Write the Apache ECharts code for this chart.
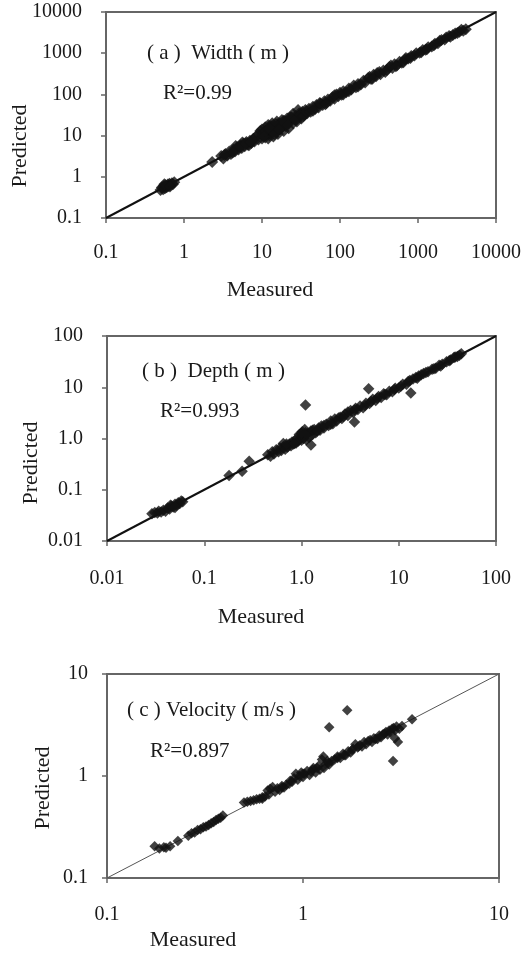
<!DOCTYPE html>
<html><head><meta charset="utf-8">
<script src="https://cdn.jsdelivr.net/npm/echarts@6/dist/echarts.min.js"></script>
<style>html,body{margin:0;padding:0;background:#fff}#c{width:524px;height:955px}</style>
</head><body><div id="c"></div>
<script>
const FONT = "'Liberation Serif','Times New Roman',serif";

const ticksA = ['0.1','1','10','100','1000','10000'];
const ticksB = ['0.01','0.1','1.0','10','100'];
const ticksC = ['0.1','1','10'];
const rangeA = [0.1, 10000];
const rangeB = [0.01, 100];
const rangeC = [0.1, 10];

const pointsA = [
[0.5,0.48],[0.52,0.55],[0.54,0.5],[0.55,0.6],[0.57,0.53],[0.58,0.62],[0.6,0.56],[0.62,0.65],[0.63,0.6],[0.65,0.68],[0.67,0.63],[0.7,0.7],[0.72,0.66],[0.75,0.74],[0.56,0.66],[0.66,0.58],
[2.3,2.3],
[3.0,3.2],[3.2,2.8],[3.4,3.6],[3.6,3.3],[3.8,4.1],[4.0,3.6],[4.3,4.6],[4.5,4.1],[4.8,5.2],[5.0,4.6],[5.3,5.8],[5.5,5.0],[5.8,6.4],[6.0,5.5],[6.3,7.0],[6.6,6.0],[7.0,7.5],[7.3,6.6],[7.6,8.0],[8.0,7.2],[4.6,5.6],[5.6,6.8],[6.8,5.8],
[3.3,3.4],[4.2,3.9],[5.2,5.4],[6.2,6.4],[7.8,8.4],[7.2,7.0],
[8.5,9.5],[9,8],[9,11],[9.5,13],[10,8.5],[10,10.5],[10,14],[10.5,12],[11,9],[11,16],[11.5,11],[12,8.5],[12,13],[12,18],[12.5,10],[13,15],[13,11.5],[13.5,20],[14,9.5],[14,13],[14.5,17],[15,12],[15,15],[15.5,22],[16,11],[16,18],[17,14],[17,20],[18,16],[18,24],[19,13],[19,19],[20,22],[20,17],[21,26],[22,20],[22,15],[23,24],[24,28],[25,20],[25,34],[26,25],[27,30],[28,22],[29,42],[30,28],[30,35],[32,26],[33,38],[35,32],[36,42],[38,35],
[11,13],[13,17],[15,19],[17,16],[19,23],[21,18],[23,28],[27,24],[31,32],[34,30],[37,38],[10.5,9.5],[12.5,15],[14.5,11],[16.5,14],
[40,45],[42,38],[45,50],[48,44],[50,55],[53,48],[56,60],[60,55],[63,68],[67,62],[70,75],[75,70],[80,85],[85,78],[90,100],[95,90],[100,110],[105,98],[110,120],[120,112],[130,140],[140,132],[150,165],[160,150],[170,180],[185,175],[200,215],[210,195],[230,250],[250,235],[270,300],[290,275],[300,330],[330,310],[360,380],[400,390],[430,460],[470,440],[500,540],[540,510],[580,620],[620,590],[680,700],[750,740],[820,860],[900,880],[950,1000],[1050,1020],[1150,1200],[1250,1220],[1350,1400],[1500,1450],[1650,1700],[1800,1750],[2000,2100],[2200,2150],[2500,2600],[2800,2750],[3200,3100],[3600,3700],[4100,3800],
[45,40],[55,62],[65,58],[85,95],[110,100],[130,120],[170,155],[240,270],[260,240],[320,350],[380,350],[450,500],[520,480],[650,600],[700,760],[800,760],[1100,1050],[1300,1250],[1600,1550],[1900,2000],[2300,2400],[2600,2500],[3000,3000],[3400,3300],[3800,3500]
];

const pointsB = [
[0.029,0.034],[0.031,0.036],[0.033,0.035],[0.034,0.038],[0.036,0.037],[0.038,0.04],[0.04,0.038],[0.042,0.044],[0.044,0.042],[0.046,0.048],[0.048,0.046],[0.05,0.052],[0.052,0.05],[0.054,0.056],[0.056,0.054],[0.058,0.06],[0.06,0.058],[0.045,0.05],[0.05,0.045],
[0.18,0.19],[0.245,0.23],[0.29,0.36],
[0.45,0.48],[0.48,0.45],[0.5,0.55],[0.52,0.5],[0.55,0.6],[0.58,0.55],[0.6,0.65],[0.62,0.58],[0.65,0.8],[0.65,0.68],[0.68,0.62],[0.7,0.72],[0.72,0.68],[0.75,0.78],[0.78,0.72],[0.8,0.85],[0.82,0.78],[0.85,0.9],[0.88,0.82],[0.9,1.0],[0.92,0.88],[0.95,1.2],[0.95,0.95],[1.0,1.1],[1.0,0.92],[1.02,1.35],[1.05,1.0],[1.08,1.5],[1.1,1.15],[1.12,0.95],[1.15,1.25],[1.2,1.05],[1.25,1.4],[1.3,1.2],[1.35,1.5],[1.4,1.3],[1.5,1.6],[1.55,1.45],[1.6,1.75],[1.7,1.6],[1.8,1.9],[1.9,1.8],[2.0,2.2],[2.1,1.95],[2.2,2.4],[2.3,2.2],[2.5,2.6],[2.6,2.45],[2.8,3.0],[3.0,2.8],[3.2,3.5],[3.4,3.2],[3.6,3.9],[3.8,3.7],[4.0,4.3],[4.3,4.0],[4.6,4.9],[5.0,4.8],[5.4,5.8],[5.8,5.5],[6.2,6.6],[6.6,6.3],[7.0,7.5],[7.5,7.1],[8.0,8.4],[8.6,8.2],[9.2,9.6],[10,9.7],[11,11.5],[12,11.5],[13,13.5],[14,14.5],[15,15.5],[16,16.5],[17,17.5],[18,18.5],[20,20],[22,22.5],[24,23.5],[26,27],[28,28],[31,31.5],[34,34],[37,38],[40,40],[44,45],
[0.7,0.78],[0.85,0.8],[1.0,1.25],[1.1,1.3],[1.3,1.45],[1.45,1.4],[1.7,1.8],[2.0,1.9],[2.4,2.5],[2.7,2.7],[3.0,3.3],[3.5,3.6],[4.5,4.4],[5.2,5.3],[6.0,6.1],[7.2,7.2],[9,9],[10.5,10.5],[12.5,13],[15.5,15],[19,19.5],[23,23],[27,26],[33,33],[38,39],[42,42],
[1.1,4.5],[4.9,9.3],[13.3,7.7],[3.5,2.1],[1.25,0.75]
];

const pointsC = [
[0.175,0.205],[0.185,0.195],[0.195,0.2],[0.2,0.198],[0.21,0.205],[0.23,0.23],[0.26,0.26],[0.27,0.275],[0.28,0.28],[0.29,0.295],[0.3,0.3],[0.31,0.315],[0.32,0.32],[0.33,0.33],[0.34,0.345],[0.35,0.355],[0.36,0.37],[0.37,0.38],[0.38,0.39],[0.39,0.41],
[0.5,0.55],[0.52,0.56],[0.54,0.57],[0.56,0.58],[0.58,0.59],[0.6,0.6],[0.62,0.62],[0.64,0.63],[0.66,0.72],[0.67,0.66],[0.68,0.75],[0.7,0.78],[0.72,0.7],[0.74,0.76],[0.76,0.73],[0.78,0.8],[0.8,0.77],[0.82,0.82],[0.85,0.84],[0.88,0.88],[0.9,0.95],[0.92,1.05],[0.94,0.92],[0.96,1.0],[0.98,1.08],[1.0,0.98],[1.02,1.05],[1.05,1.12],[1.08,1.02],[1.1,1.1],[1.13,1.2],[1.16,1.08],[1.2,1.25],[1.22,1.15],[1.25,1.45],[1.27,1.55],[1.28,1.2],[1.3,1.3],[1.33,1.4],[1.36,1.3],[1.4,1.4],[1.45,1.45],[1.5,1.55],[1.55,1.5],[1.6,1.65],[1.65,1.6],[1.7,1.75],[1.75,1.7],[1.8,1.85],[1.85,2.05],[1.9,1.9],[1.95,2.0],[2.0,1.95],[2.05,2.15],[2.1,2.05],[2.2,2.25],[2.25,2.15],[2.3,2.35],[2.4,2.3],[2.45,2.5],[2.5,2.4],[2.6,2.6],[2.65,2.7],[2.7,2.55],[2.75,2.8],[2.8,2.65],[2.9,2.95],[2.95,2.8],[3.0,3.05],[3.1,2.9],[3.6,3.6],
[0.62,0.6],[0.78,0.77],[0.86,0.9],[1.0,1.05],[1.12,1.15],[1.18,1.2],[1.35,1.35],[1.5,1.5],[1.62,1.6],[1.78,1.8],[1.92,1.95],[2.15,2.2],[2.35,2.3],[2.55,2.55],[2.85,2.9],[3.2,3.1],
[1.36,3.0],[1.68,4.4],[2.88,1.4],[3.05,2.15],[2.95,2.35]
];

const chart = echarts.init(document.getElementById('c'), null, {renderer:'canvas'});

function fmt(ticks, range){
  return function(v){
    const i = Math.round(Math.log10(v) - Math.log10(range[0]));
    return ticks[i] !== undefined ? ticks[i] : '';
  };
}
function mkAxis(idx, ticks, range, margin){
  return {
    type:'log', logBase:10, gridIndex:idx, min:range[0], max:range[1], interval:1,
    axisLine:{show:false},
    axisTick:{show:true, length:5, lineStyle:{color:'#666', width:1.5}},
    splitLine:{show:false}, minorTick:{show:false},
    axisLabel:{show:true, margin:margin, color:'#1a1a1a', fontFamily:FONT, fontSize:20, formatter:fmt(ticks, range)}
  };
}
const grids = [
  {left:106, top:12, width:394, height:206},
  {left:107, top:336, width:389, height:205},
  {left:107, top:674, width:392, height:204}
].map(g => Object.assign(g, {show:true, borderColor:'#666', borderWidth:2, backgroundColor:'transparent'}));

function txt(x, y, text, size){
  return {type:'text', x:x, y:y, z:100,
    style:{text:text, font: size+'px '+FONT, fill:'#1a1a1a', align:'left', verticalAlign:'middle'}};
}
function rot(x, y, text){
  return {type:'text', x:x, y:y, rotation:Math.PI/2, z:100,
    style:{text:text, font:'22px '+FONT, fill:'#1a1a1a', align:'center', verticalAlign:'middle'}};
}
function ctr(x, y, text){
  return {type:'text', x:x, y:y, z:100,
    style:{text:text, font:'22px '+FONT, fill:'#1a1a1a', align:'center', verticalAlign:'middle'}};
}

function sc(i, data, size){
  return {type:'scatter', xAxisIndex:i, yAxisIndex:i, data:data, symbol:'diamond', symbolSize:size,
    itemStyle:{color:'#111'}, z:3, silent:true};
}

chart.setOption({
  animation:false,
  backgroundColor:'#fff',
  grid: grids,
  xAxis: [mkAxis(0, ticksA, rangeA, 25), mkAxis(1, ticksB, rangeB, 28), mkAxis(2, ticksC, rangeC, 27)],
  yAxis: [mkAxis(0, ticksA, rangeA, 24), mkAxis(1, ticksB, rangeB, 24), mkAxis(2, ticksC, rangeC, 19)],
  series: [
    {type:'line', xAxisIndex:0, yAxisIndex:0, data:[[rangeA[0],rangeA[0]],[rangeA[1],rangeA[1]]], symbol:'none', lineStyle:{color:'#111', width:2}, z:2, silent:true},
    {type:'line', xAxisIndex:1, yAxisIndex:1, data:[[rangeB[0],rangeB[0]],[rangeB[1],rangeB[1]]], symbol:'none', lineStyle:{color:'#111', width:2}, z:2, silent:true},
    {type:'line', xAxisIndex:2, yAxisIndex:2, data:[[rangeC[0],rangeC[0]],[rangeC[1],rangeC[1]]], symbol:'none', lineStyle:{color:'#555', width:1}, z:2, silent:true},
    sc(0, pointsA, 12),
    sc(1, pointsB, 11.5),
    sc(2, pointsC, 10.5)
  ],
  graphic: [
    txt(147, 53, '( a )  Width ( m )', 21),
    txt(163, 93, 'R²=0.99', 21),
    txt(142, 371, '( b )  Depth ( m )', 21),
    txt(160, 411, 'R²=0.993', 21),
    txt(127, 710, '( c ) Velocity ( m/s )', 21),
    txt(150, 751, 'R²=0.897', 21),
    ctr(270, 290, 'Measured'),
    ctr(261, 617, 'Measured'),
    ctr(193, 940, 'Measured'),
    rot(20, 146, 'Predicted'),
    rot(31, 463, 'Predicted'),
    rot(43, 788, 'Predicted')
  ]
});
</script></body></html>
